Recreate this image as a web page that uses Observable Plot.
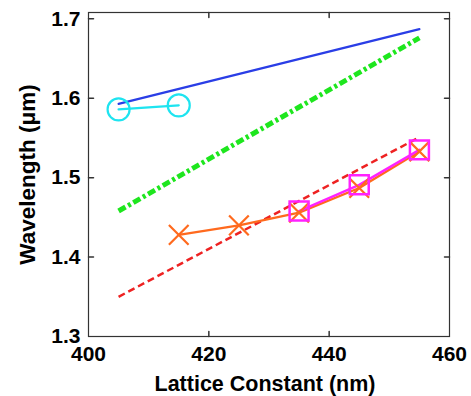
<!DOCTYPE html>
<html><head><meta charset="utf-8">
<script src="https://cdn.jsdelivr.net/npm/d3@7"></script>
<script src="https://cdn.jsdelivr.net/npm/@observablehq/plot@0.6"></script>
<style>html,body{margin:0;padding:0;background:#fff;}</style>
</head><body><div id="chart"></div>
<script>
const xTicks = [400, 420, 440, 460];
const yTicks = [1.3, 1.4, 1.5, 1.6, 1.7];
const xLabel = "Lattice Constant (nm)";
const yLabel = "Wavelength (μm)";
const blueX = [405, 455], blueY = [1.593, 1.687];
const greenX = [405, 455], greenY = [1.458, 1.676];
const redX = [405, 455], redY = [1.350, 1.551];
const orangeX = [415, 425, 435, 445, 455], orangeY = [1.428, 1.440, 1.456, 1.487, 1.533];
const magentaX = [435, 445, 455], magentaY = [1.458, 1.491, 1.535];
const cyanX = [405, 415], cyanY = [1.586, 1.591];

const pts = (xs, ys) => xs.map((x, i) => ({x, y: ys[i]}));
const tickShape = {draw(ctx, l) { ctx.moveTo(0, 0); ctx.lineTo(0, -l); }};
const innerX = xTicks.slice(1, -1), innerY = yTicks.slice(1);

const chart = Plot.plot({
  width: 471, height: 396,
  marginLeft: 88, marginRight: 22, marginTop: 12, marginBottom: 60,
  style: {fontFamily: "'Liberation Sans', Arial, sans-serif", fontWeight: "bold", fontSize: "21px", color: "#000", background: "#fff"},
  x: {domain: [400, 460]},
  y: {domain: [1.3, 1.708]},
  marks: [
    Plot.axisX(xTicks, {tickSize: 0, tickPadding: 10, fontSize: 21, label: null}),
    Plot.axisY(yTicks, {tickSize: 0, tickPadding: 8, fontSize: 21, tickFormat: d => d.toFixed(1), label: null}),
    Plot.text([xLabel], {text: d => d, frameAnchor: "bottom", textAnchor: "middle", lineAnchor: "middle", dy: 48, dx: -4, fontSize: 21.5, fontWeight: "bold", fill: "#000"}),
    Plot.text([yLabel], {text: d => d, frameAnchor: "left", textAnchor: "middle", lineAnchor: "middle", rotate: -90, dx: -61, fontSize: 22.5, fontWeight: "bold", fill: "#000"}),
    Plot.line(pts(redX, redY), {x: "x", y: "y", stroke: "#ee2222", strokeWidth: 2.5, strokeDasharray: "7,4", strokeLinecap: "butt"}),
    Plot.line(pts(greenX, greenY), {x: "x", y: "y", stroke: "#1ee61e", strokeWidth: 5, strokeDasharray: "8,3,3,3", strokeLinecap: "butt"}),
    Plot.line(pts(blueX, blueY), {x: "x", y: "y", stroke: "#2a3ee6", strokeWidth: 2.2}),
    Plot.line(pts(cyanX, cyanY), {x: "x", y: "y", stroke: "#1ee4f0", strokeWidth: 2.2}),
    Plot.dot(pts(cyanX, cyanY), {x: "x", y: "y", r: 11, stroke: "#1ee4f0", strokeWidth: 2.2, fill: "none"}),
    Plot.line(pts(orangeX, orangeY), {x: "x", y: "y", stroke: "#ff6a1e", strokeWidth: 2.2}),
    Plot.line(pts(magentaX, magentaY), {x: "x", y: "y", stroke: "#ff22ff", strokeWidth: 2.5}),
    Plot.dot(pts(orangeX, orangeY), {x: "x", y: "y", symbol: "times", r: 9, stroke: "#ff6a1e", strokeWidth: 2.2}),
    Plot.dot(pts(magentaX, magentaY), {x: "x", y: "y", symbol: "square", r: 10.7, stroke: "#ff22ff", strokeWidth: 2.5, fill: "none"}),
    Plot.vector(innerX, {x: d => d, frameAnchor: "bottom", length: 5, rotate: 0, anchor: "start", shape: tickShape, stroke: "#333"}),
    Plot.vector(innerX, {x: d => d, frameAnchor: "top", length: 5, rotate: 180, anchor: "start", shape: tickShape, stroke: "#333"}),
    Plot.vector(innerY, {y: d => d, frameAnchor: "left", length: 5, rotate: 90, anchor: "start", shape: tickShape, stroke: "#333"}),
    Plot.vector(innerY, {y: d => d, frameAnchor: "right", length: 5, rotate: -90, anchor: "start", shape: tickShape, stroke: "#333"}),
    Plot.frame({stroke: "#333", strokeWidth: 1.2})
  ]
});
document.getElementById("chart").appendChild(chart);
</script>
</body></html>
